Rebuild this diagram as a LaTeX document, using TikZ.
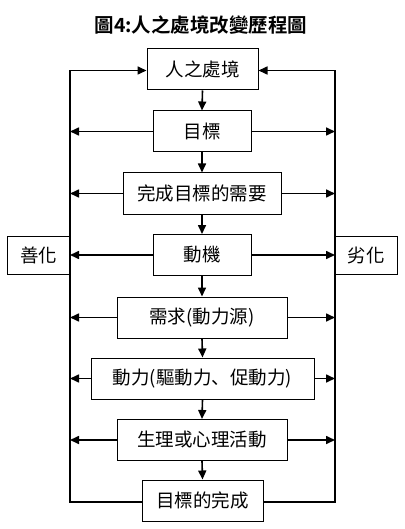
\documentclass[tikz,border=0pt]{standalone}
\usepackage{fontspec}
\setmainfont{Noto Sans CJK TC}
\newfontfamily\titlefont{Noto Sans CJK TC Bold}
\newfontfamily\jpfont{Noto Sans CJK JP}
\usetikzlibrary{arrows.meta}
\tikzset{
  box/.style={draw, line width=1pt, minimum height=41pt, inner sep=0pt, font=\fontsize{18.5}{22}\selectfont},
  conn/.style={line width=1.6pt, -{Triangle[length=9pt,width=8pt]}},
  loopline/.style={line width=1.6pt},
}
\begin{document}
\begin{tikzpicture}[x=1pt,y=-1pt]
\useasboundingbox (0,0) rectangle (404,529);
\node[font=\titlefont\fontsize{19.5}{22}\selectfont] (title) at (201,25) {圖4:人之處境改變歷程圖};
\node[box, minimum width=111pt] (b1) at (202.5,69.5) {人之處境};
\node[box, minimum width=98pt] (b2) at (202,131.5) {目標};
\node[box, minimum width=158pt] (b3) at (202,193.5) {完成目標的需要};
\node[box, minimum width=98pt] (b4) at (202,255) {動機};
\node[box, minimum width=170pt] (b5) at (202,317.5) {需求(動力源)};
\node[box, minimum width=223pt] (b6) at (202.5,378.5) {動力(驅動力{\jpfont 、}促動力)};
\node[box, minimum width=170pt] (b7) at (202,440) {生理或心理活動};
\node[box, minimum width=121pt] (b8) at (202.5,500.5) {目標的完成};
\node[box, minimum width=62pt, minimum height=38pt] (good) at (38.5,255) {善化};
\node[box, minimum width=62pt, minimum height=38pt] (bad) at (366,255) {劣化};
\coordinate (lt) at (70,70.5);
\coordinate (lb) at (70,502);
\coordinate (rt) at (335,70.5);
\coordinate (rb) at (335,502);
% vertical down arrows
\foreach \a/\b in {b1/b2,b2/b3,b3/b4,b4/b5,b5/b6,b6/b7,b7/b8}
  \draw[conn] (\a.south) -- (\b.north);
% loop
\draw[loopline] (b8.west |- lb) -- (lb) -- (lt);
\draw[conn] (lt) -- (b1.west |- lt);
\draw[loopline] (b8.east |- rb) -- (rb) -- (rt);
\draw[conn] (rt) -- (b1.east |- rt);
% side arrows
\foreach \n in {b2,b3,b4,b5,b6,b7} {
  \draw[conn] (\n.west) -- (\n.west -| lt);
  \draw[conn] (\n.east) -- (\n.east -| rt);
}
\end{tikzpicture}
\end{document}
